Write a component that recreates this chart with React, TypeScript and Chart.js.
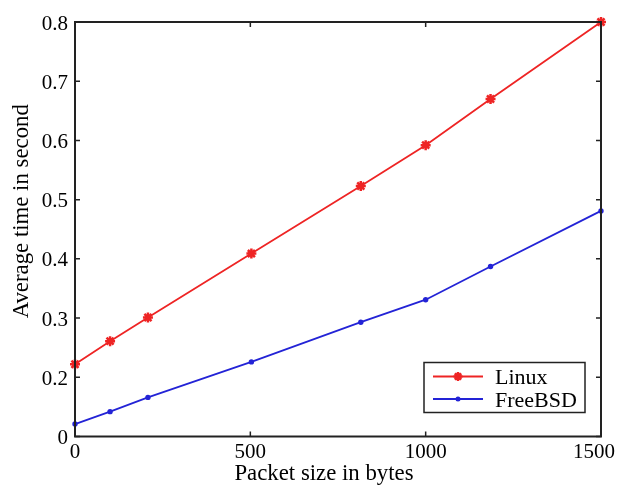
import { useEffect, useRef } from 'react';
import { Chart, registerables } from 'chart.js';

Chart.register(...registerables);

// Packet sizes (bytes) shared by both series
const packetSizes = [0, 100, 208, 503, 815, 1000, 1185, 1500];
// Average time (s) per OS
const linuxTimes = [0.222, 0.261, 0.301, 0.409, 0.523, 0.592, 0.67, 0.8];
const freebsdTimes = [0.121, 0.142, 0.166, 0.226, 0.293, 0.331, 0.387, 0.481];

const seriesNames = ['Linux', 'FreeBSD'];
const seriesColors = ['#ee2424', '#2323d6'];

// Axis tick labels as printed along each axis
const xTickLabels = ['0', '500', '1000', '1500'];
const yTickLabels = ['0', '0.2', '0.3', '0.4', '0.5', '0.6', '0.7', '0.8'];

const xTitle = 'Packet size in bytes';
const yTitle = 'Average time in second';

const FONT_FAMILY = '"Liberation Serif", "Times New Roman", serif';

function drawMarker(ctx: CanvasRenderingContext2D, style: string, x: number, y: number, r: number, color: string) {
  ctx.save();
  ctx.strokeStyle = color;
  ctx.fillStyle = color;
  if (style === 'star') {
    ctx.lineWidth = 2.5;
    ctx.beginPath();
    for (let k = 0; k < 4; k++) {
      const ang = (k * Math.PI) / 4;
      ctx.moveTo(x - r * Math.cos(ang), y - r * Math.sin(ang));
      ctx.lineTo(x + r * Math.cos(ang), y + r * Math.sin(ang));
    }
    ctx.stroke();
  } else {
    ctx.beginPath();
    ctx.arc(x, y, r, 0, Math.PI * 2);
    ctx.fill();
  }
  ctx.restore();
}

// Boxed axes with inward ticks, tick labels, titles and a framed legend
const boxedAxesPlugin = {
  id: 'boxedAxes',
  afterDatasetsDraw(chart: any) {
    const { ctx, chartArea: a, scales } = chart;
    const xs = scales.x;
    const ys = scales.y;
    const tickLen = 5;
    ctx.save();

    // frame
    ctx.strokeStyle = '#222';
    ctx.lineWidth = 2;
    ctx.strokeRect(a.left, a.top, a.right - a.left, a.bottom - a.top);

    // inward tick marks on all four sides
    ctx.lineWidth = 1.5;
    ctx.beginPath();
    xs.ticks.forEach((t: any) => {
      const px = xs.getPixelForValue(t.value);
      ctx.moveTo(px, a.bottom);
      ctx.lineTo(px, a.bottom - tickLen);
      ctx.moveTo(px, a.top);
      ctx.lineTo(px, a.top + tickLen);
    });
    ys.ticks.forEach((t: any) => {
      const py = ys.getPixelForValue(t.value);
      ctx.moveTo(a.left, py);
      ctx.lineTo(a.left + tickLen, py);
      ctx.moveTo(a.right, py);
      ctx.lineTo(a.right - tickLen, py);
    });
    ctx.stroke();

    // tick labels
    ctx.fillStyle = '#000';
    ctx.font = `21px ${FONT_FAMILY}`;
    ctx.textBaseline = 'alphabetic';
    xs.ticks.forEach((t: any, i: number) => {
      const label = xTickLabels[i] ?? String(t.value);
      const w = ctx.measureText(label).width;
      let px = xs.getPixelForValue(t.value);
      if (px + w / 2 > chart.width - 3) px = chart.width - 3 - w / 2;
      ctx.textAlign = 'center';
      ctx.fillText(label, px, a.bottom + 21.5);
    });
    ys.ticks.forEach((t: any, i: number) => {
      const label = yTickLabels[i] ?? String(t.value);
      const py = ys.getPixelForValue(t.value);
      ctx.textAlign = 'right';
      ctx.fillText(label, a.left - 7, py + 7.5);
    });

    // axis titles
    ctx.font = `22.8px ${FONT_FAMILY}`;
    ctx.textAlign = 'center';
    ctx.fillText(xTitle, (a.left + a.right) / 2 - 14, a.bottom + 43.5);
    ctx.save();
    ctx.translate(28, (a.top + a.bottom) / 2 - 18);
    ctx.rotate(-Math.PI / 2);
    ctx.fillText(yTitle, 0, 0);
    ctx.restore();

    // legend
    const boxW = 161;
    const boxH = 50;
    const bx = a.right - 16 - boxW;
    const by = a.bottom - 24 - boxH;
    ctx.fillStyle = '#fff';
    ctx.fillRect(bx, by, boxW, boxH);
    ctx.strokeStyle = '#222';
    ctx.lineWidth = 1.5;
    ctx.strokeRect(bx, by, boxW, boxH);
    ctx.font = `22px ${FONT_FAMILY}`;
    ctx.textAlign = 'left';
    chart.data.datasets.forEach((ds: any, i: number) => {
      const ly = by + 14 + i * 22.5;
      ctx.strokeStyle = ds.borderColor;
      ctx.lineWidth = 1.8;
      ctx.beginPath();
      ctx.moveTo(bx + 9, ly);
      ctx.lineTo(bx + 59, ly);
      ctx.stroke();
      drawMarker(ctx, ds.pointStyle, bx + 34, ly, ds.pointStyle === 'star' ? 4.5 : 2.5, ds.borderColor);
      ctx.fillStyle = '#000';
      ctx.fillText(ds.label, bx + 71, ly + 7.5);
    });

    ctx.restore();
  },
};

export default function App() {
  const canvasRef = useRef<HTMLCanvasElement | null>(null);

  useEffect(() => {
    const canvas = canvasRef.current;
    if (!canvas) return;
    const toPoints = (ys: number[]) => packetSizes.map((x, i) => ({ x, y: ys[i] }));

    const chart = new Chart(canvas, {
      type: 'line',
      data: {
        datasets: [
          {
            label: seriesNames[0],
            data: toPoints(linuxTimes),
            borderColor: seriesColors[0],
            backgroundColor: seriesColors[0],
            borderWidth: 1.8,
            pointStyle: 'star',
            pointRadius: 5,
            pointBorderWidth: 2.5,
            pointBorderColor: seriesColors[0],
            pointBackgroundColor: seriesColors[0],
            tension: 0,
            clip: false,
          },
          {
            label: seriesNames[1],
            data: toPoints(freebsdTimes),
            borderColor: seriesColors[1],
            backgroundColor: seriesColors[1],
            borderWidth: 1.8,
            pointStyle: 'circle',
            pointRadius: 2.7,
            pointBorderWidth: 0,
            pointBackgroundColor: seriesColors[1],
            tension: 0,
            clip: false,
          },
        ],
      },
      options: {
        animation: false,
        responsive: false,
        layout: { padding: { left: 75, top: 22, right: 17, bottom: 49.5 } },
        plugins: {
          legend: { display: false },
          tooltip: { enabled: false },
        },
        scales: {
          x: {
            type: 'linear',
            display: false,
            min: 0,
            max: 1500,
            ticks: { stepSize: 500 },
          },
          y: {
            type: 'linear',
            display: false,
            min: 0.1,
            max: 0.8,
            ticks: { stepSize: 0.1 },
          },
        },
      },
      plugins: [boxedAxesPlugin],
    });

    return () => chart.destroy();
  }, []);

  return (
    <div style={{ position: 'fixed', left: 0, top: 0, width: 618, height: 486, background: '#fff' }}>
      <canvas ref={canvasRef} width={618} height={486} />
    </div>
  );
}
